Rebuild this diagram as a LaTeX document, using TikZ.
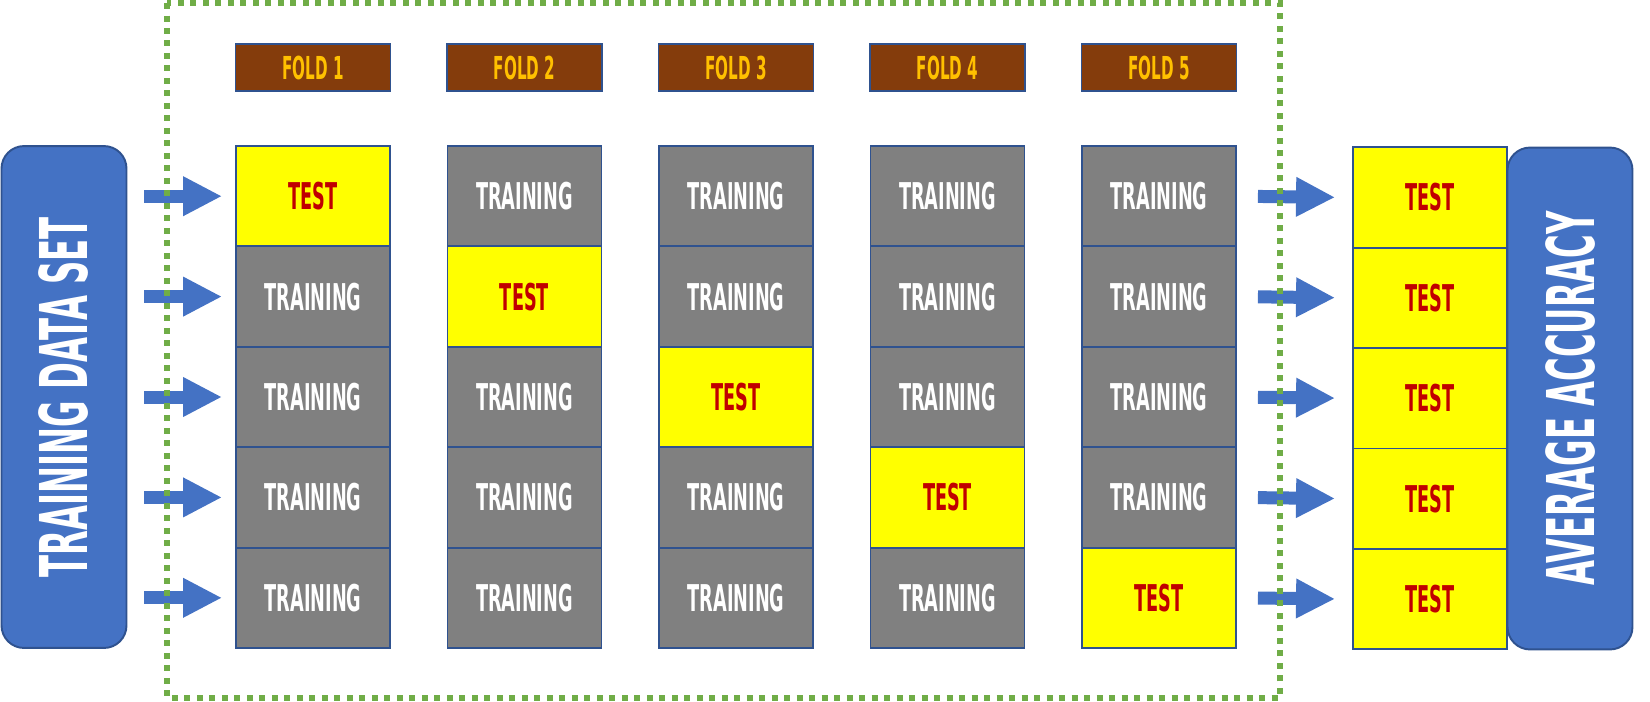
\documentclass[tikz,border=0pt]{standalone}
\usepackage{fontspec}
\newfontfamily\agency{DejaVu Sans Bold}[FakeStretch=0.48]
\newfontfamily\agencywide{DejaVu Sans Bold}[FakeStretch=0.49]
\usetikzlibrary{arrows.meta}
\definecolor{boxblue}{HTML}{4472C4}
\definecolor{edgeblue}{HTML}{2F528F}
\definecolor{foldbrown}{HTML}{843C0C}
\definecolor{foldgold}{HTML}{FFC000}
\definecolor{testred}{HTML}{C00000}
\definecolor{traingrey}{HTML}{808080}
\definecolor{testyellow}{HTML}{FFFF00}
\definecolor{dotgreen}{HTML}{70AD47}

\begin{document}
\begin{tikzpicture}[x=0.02cm,y=-0.02cm,
        cellbox/.style={draw=edgeblue,line width=1.1pt,minimum width=3.08cm,minimum height=2.008cm,inner sep=0pt,
            font=\agency\fontsize{21pt}{21pt}\selectfont},
        testcell/.style={cellbox,fill=testyellow,text=testred},
        traincell/.style={cellbox,fill=traingrey,text=white},
        foldhead/.style={draw=edgeblue,line width=1.1pt,fill=foldbrown,text=foldgold,minimum width=3.1cm,minimum height=0.94cm,inner sep=0pt,
            font=\agency\fontsize{18pt}{18pt}\selectfont},
        sidebox/.style={draw=edgeblue,line width=1.1pt,fill=boxblue,text=white,rounded corners=0.45cm,rotate=90,
            minimum width=10.04cm,minimum height=2.5cm,inner sep=0pt,font=\agencywide\fontsize{37.5pt}{37.5pt}\selectfont},
        blockarrow/.style={boxblue,line width=0.26cm,-{Triangle[length=0.78cm,width=0.74cm]}}
    ]
    \useasboundingbox (0,0) rectangle (1650,701);
    % side boxes
    \node[sidebox] (tds) at (64,397) {TRAINING DATA SET};
    \node[sidebox] (acc) at (1570,398.5) {AVERAGE ACCURACY};
    % folds
    \foreach \c in {1,...,5} {
        \node[foldhead] (h\c) at ({313+211.5*(\c-1)},67.5) {FOLD \c};
        \foreach \r in {1,...,5} {
            \ifnum\r=\c \def\kind{testcell}\def\txt{TEST}\else \def\kind{traincell}\def\txt{TRAINING}\fi
            \node[\kind] (f\c r\r) at ({313+211.5*(\c-1)},{196.2+100.4*(\r-1)}) {\txt};
        }
    }
    % results and arrows
    \foreach \r in {1,...,5} {
        \node[testcell] (res\r) at (1430,{197.5+100.4*(\r-1)}) {TEST};
        \draw[blockarrow,shorten <=0.34cm,shorten >=0.26cm] (tds.south |- f1r\r.center) -- (f1r\r.west);
        \draw[blockarrow,shorten <=0.42cm,shorten >=0.34cm] (f5r\r.east) -- (res\r.west);
    }
    \draw[dotgreen,line width=0.12cm,dash pattern=on 0.12cm off 0.13cm] (167,3) rectangle (1280,698);
\end{tikzpicture}
\end{document}
